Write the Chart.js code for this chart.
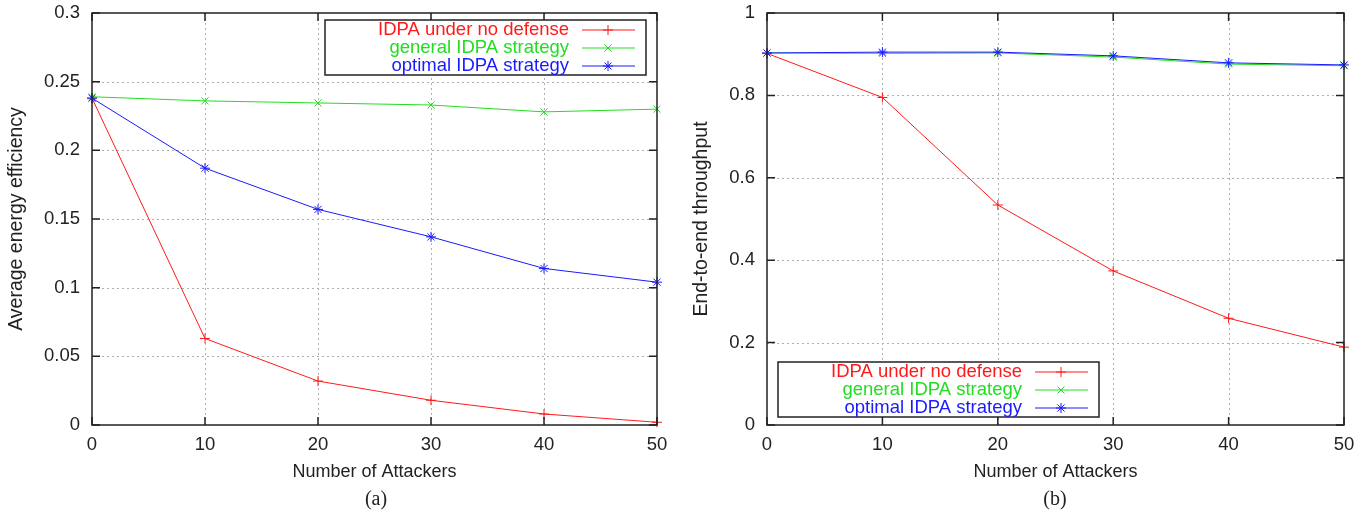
<!DOCTYPE html>
<html lang="en">
<head>
    <meta charset="UTF-8">
    <title>IDPA energy efficiency and throughput</title>
    <script src="https://cdn.jsdelivr.net/npm/chart.js"></script>
    <style>
        body {
            margin: 0;
            background: #fff;
            width: 1369px;
            height: 514px;
            position: relative;
            overflow: hidden;
        }
        .panel {
            position: absolute;
            top: 0;
        }
        .caption {
            position: absolute;
            top: 487px;
            width: 60px;
            text-align: center;
            font-family: "Liberation Serif", serif;
            font-size: 20px;
            color: #222;
        }
    </style>
</head>
<body>
<div class="panel" style="left:0"><canvas id="energyChart" width="685" height="514"></canvas></div>
<div class="panel" style="left:685px"><canvas id="throughputChart" width="684" height="514"></canvas></div>
<div class="caption" style="left:346px">(a)</div>
<div class="caption" style="left:1025px">(b)</div>

<script>
    // data
    const attackers = [0, 10, 20, 30, 40, 50];
    const seriesNames = ["IDPA under no defense", "general IDPA strategy", "optimal IDPA strategy"];

    const energyNoDefense = [0.238, 0.063, 0.032, 0.018, 0.008, 0.002];
    const energyGeneral   = [0.239, 0.236, 0.2345, 0.233, 0.228, 0.230];
    const energyOptimal   = [0.238, 0.187, 0.157, 0.137, 0.114, 0.104];

    const throughputNoDefense = [0.902, 0.795, 0.534, 0.374, 0.259, 0.189];
    const throughputGeneral   = [0.903, 0.902, 0.903, 0.893, 0.876, 0.872];
    const throughputOptimal   = [0.903, 0.905, 0.905, 0.896, 0.879, 0.874];

    const colors = ["#ff1a1a", "#22dd22", "#1a1aff"];
    const markers = ["cross", "crossRot", "star"];
    const textColor = "#222";
    const sans = '"Liberation Sans", Arial, sans-serif';

    // gnuplot-like frame: dotted grid, inward ticks on all sides, boxed legend
    const gnuFrame = {
        id: 'gnuFrame',
        beforeDatasetsDraw(chart) {
            const {ctx, chartArea: a, scales: {x, y}} = chart;
            ctx.save();
            ctx.strokeStyle = '#b0b0b0';
            ctx.lineWidth = 1;
            ctx.setLineDash([2, 3]);
            x.ticks.forEach(t => {
                if (t.value <= x.min || t.value >= x.max) return;
                const px = Math.round(x.getPixelForValue(t.value)) + 0.5;
                ctx.beginPath(); ctx.moveTo(px, a.top); ctx.lineTo(px, a.bottom); ctx.stroke();
            });
            y.ticks.forEach(t => {
                if (t.value <= y.min || t.value >= y.max) return;
                const py = Math.round(y.getPixelForValue(t.value)) + 0.5;
                ctx.beginPath(); ctx.moveTo(a.left, py); ctx.lineTo(a.right, py); ctx.stroke();
            });
            ctx.restore();
        },
        afterDatasetsDraw(chart, args, opts) {
            const {ctx, chartArea: a, scales: {x, y}} = chart;
            ctx.save();
            ctx.strokeStyle = textColor;
            ctx.lineWidth = 1.5;
            ctx.strokeRect(a.left, a.top, a.right - a.left, a.bottom - a.top);
            const len = 8;
            ctx.beginPath();
            x.ticks.forEach(t => {
                const px = x.getPixelForValue(t.value);
                ctx.moveTo(px, a.bottom); ctx.lineTo(px, a.bottom - len);
                ctx.moveTo(px, a.top); ctx.lineTo(px, a.top + len);
            });
            y.ticks.forEach(t => {
                const py = y.getPixelForValue(t.value);
                ctx.moveTo(a.left, py); ctx.lineTo(a.left + len, py);
                ctx.moveTo(a.right, py); ctx.lineTo(a.right - len, py);
            });
            ctx.stroke();

            // legend box
            const w = 321, h = 55;
            const bx = opts.corner === 'topRight' ? a.right - 11 - w : a.left + 11;
            const by = opts.corner === 'topRight' ? a.top + 7 : a.bottom - 8 - h;
            ctx.fillStyle = '#fff';
            ctx.fillRect(bx, by, w, h);
            ctx.strokeRect(bx, by, w, h);
            ctx.font = '18.5px ' + sans;
            ctx.textAlign = 'right';
            ctx.textBaseline = 'middle';
            chart.data.datasets.forEach((ds, i) => {
                const ry = by + 10 + i * 18;
                ctx.fillStyle = ds.borderColor;
                ctx.fillText(ds.label, bx + 244, ry);
                ctx.strokeStyle = ds.borderColor;
                ctx.lineWidth = 1;
                ctx.beginPath(); ctx.moveTo(bx + 257, ry); ctx.lineTo(bx + 310, ry); ctx.stroke();
                Chart.helpers.drawPoint(ctx, {pointStyle: ds.pointStyle, radius: 5, borderWidth: 1}, bx + 283, ry);
            });
            ctx.restore();
        }
    };

    function makeDatasets(values) {
        return values.map((v, i) => ({
            label: seriesNames[i],
            data: attackers.map((a, k) => ({x: a, y: v[k]})),
            borderColor: colors[i],
            backgroundColor: colors[i],
            borderWidth: 1,
            pointStyle: markers[i],
            pointRadius: 5,
            pointBorderWidth: 1,
            order: 2 - i,
            clip: false,
            tension: 0
        }));
    }

    function fmt(v) {
        return String(+v.toFixed(2));
    }

    function makeChart(id, values, yMax, yStep, yTitle, axisWidth, padRight, corner) {
        const font = {family: sans, size: 18.5};
        return new Chart(document.getElementById(id), {
            type: 'line',
            data: {datasets: makeDatasets(values)},
            options: {
                responsive: false,
                animation: false,
                layout: {padding: {left: 0, right: padRight, top: 13, bottom: 31}},
                plugins: {
                    legend: {display: false},
                    tooltip: {enabled: false},
                    gnuFrame: {corner: corner}
                },
                scales: {
                    x: {
                        type: 'linear',
                        min: 0,
                        max: 50,
                        ticks: {stepSize: 10, padding: 9, color: textColor, font: font, maxRotation: 0},
                        grid: {display: false, drawTicks: false},
                        border: {display: false},
                        title: {
                            display: true,
                            text: 'Number of Attackers',
                            color: textColor,
                            font: {family: sans, size: 18},
                            padding: {top: 0, bottom: 0}
                        },
                        afterFit: s => { s.height = 58; s.paddingLeft = 0; s.paddingRight = 0; }
                    },
                    y: {
                        min: 0,
                        max: yMax,
                        ticks: {stepSize: yStep, padding: 12, color: textColor, font: font, callback: fmt},
                        grid: {display: false, drawTicks: false},
                        border: {display: false},
                        title: {
                            display: true,
                            text: yTitle,
                            color: textColor,
                            font: {family: sans, size: 19.5},
                            padding: {top: 5, bottom: 0}
                        },
                        afterFit: s => { s.width = axisWidth; s.paddingTop = 0; s.paddingBottom = 0; }
                    }
                }
            },
            plugins: [gnuFrame]
        });
    }

    makeChart('energyChart', [energyNoDefense, energyGeneral, energyOptimal],
        0.3, 0.05, 'Average energy efficiency', 92, 28, 'topRight');
    makeChart('throughputChart', [throughputNoDefense, throughputGeneral, throughputOptimal],
        1, 0.2, 'End-to-end throughput', 82, 25, 'bottomLeft');
</script>
</body>
</html>
